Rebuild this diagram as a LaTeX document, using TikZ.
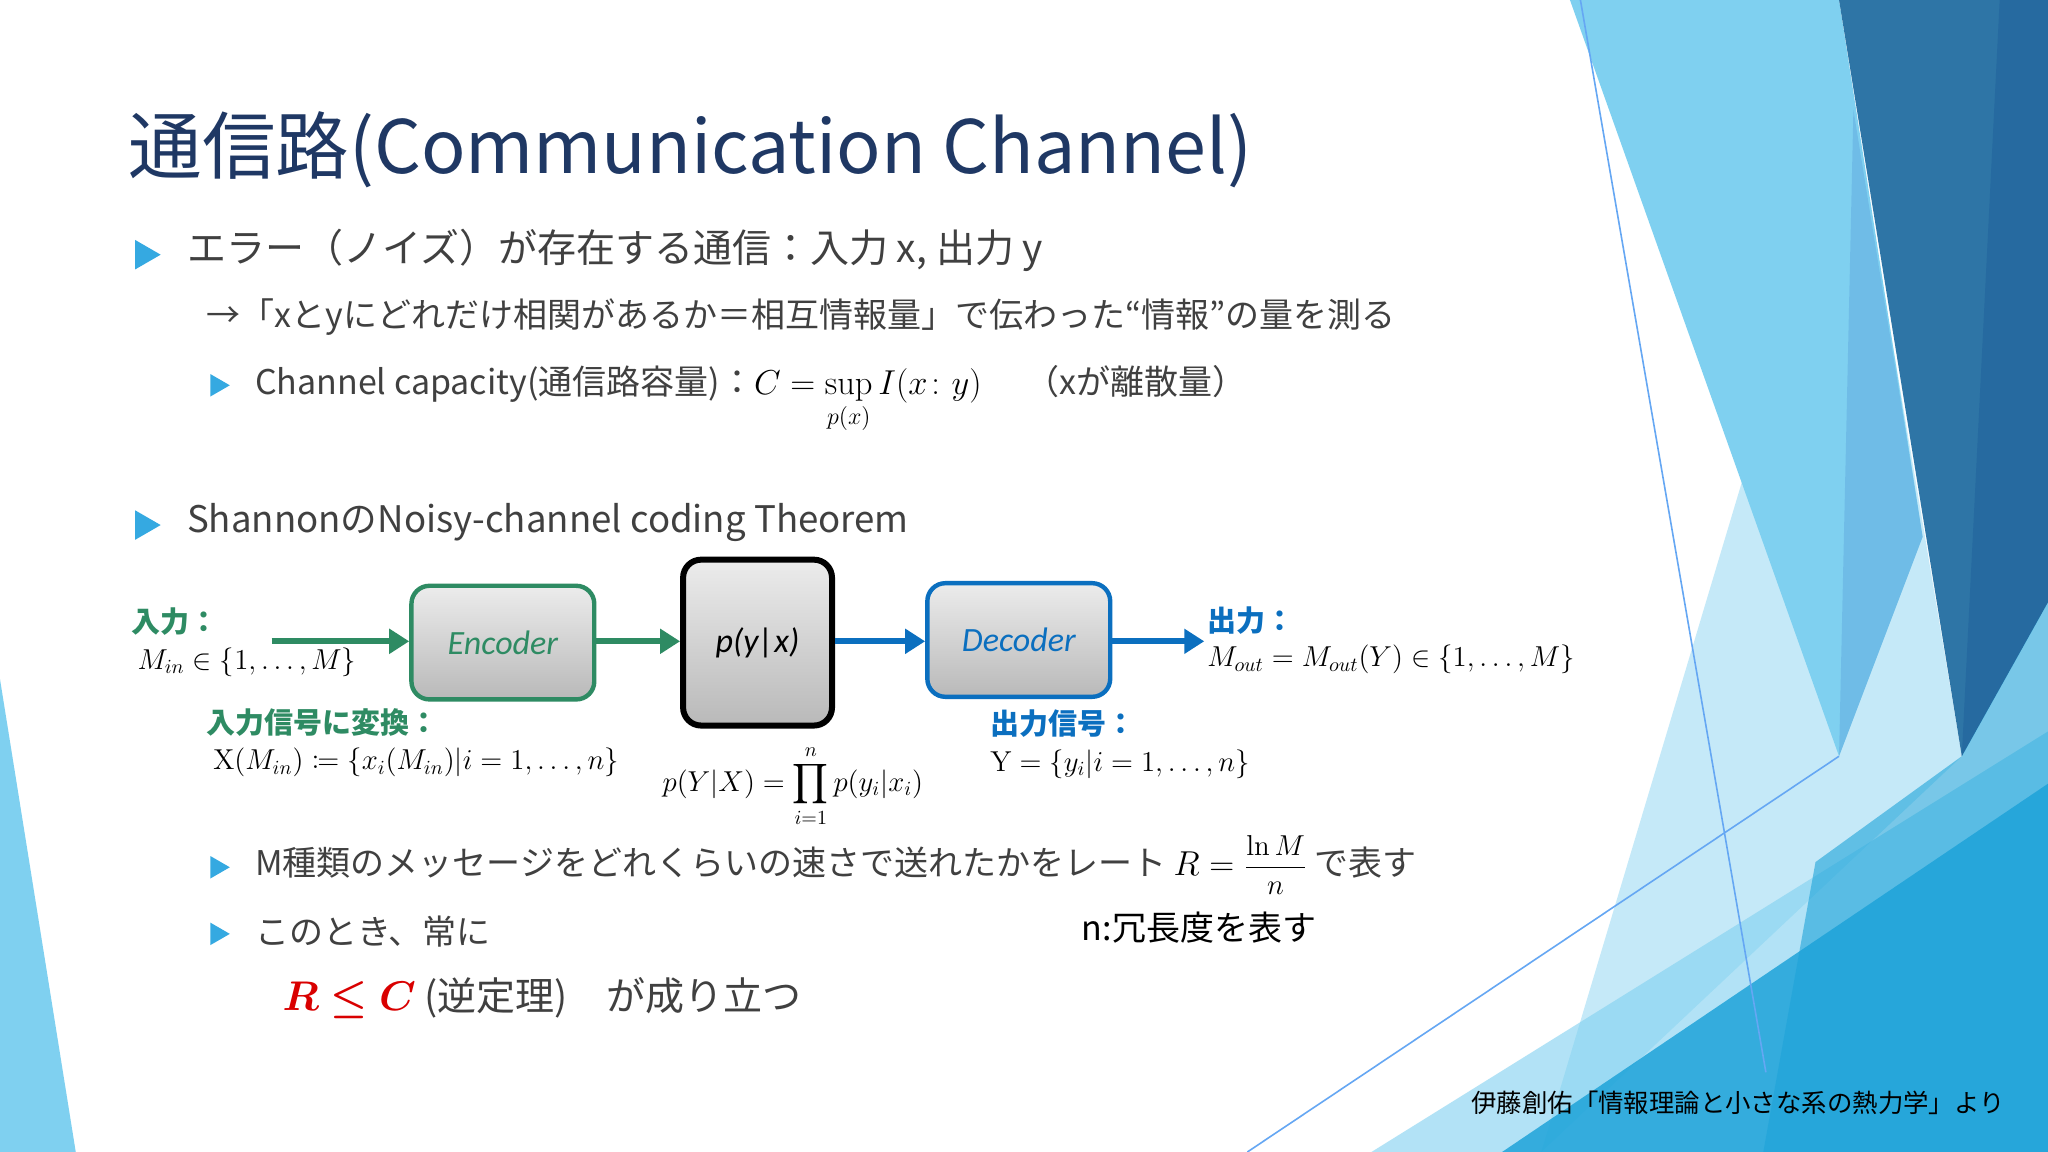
\documentclass[tikz,border=0pt]{standalone}
\usepackage{amsmath,mathtools,amssymb,bm}
\usepackage[no-math]{fontspec}
\setmainfont{Noto Sans CJK JP}
\newfontfamily\itf{Carlito}
\usetikzlibrary{arrows.meta,shapes.geometric}
\definecolor{navy}{HTML}{1F3864}
\definecolor{txt}{HTML}{404040}
\definecolor{bul}{HTML}{35A9E1}
\definecolor{grn}{HTML}{2E8B63}
\definecolor{blu}{HTML}{0B6FBF}
\definecolor{lc}{HTML}{7FD0F0}
\definecolor{dk}{HTML}{2E75A6}
\definecolor{dk2}{HTML}{266AA0}
\definecolor{tl}{HTML}{1EA3D9}
\begin{document}
\begin{tikzpicture}[x=0.653pt,y=-0.653pt,
  lbl/.style={anchor=west,inner sep=0pt},
  tri/.style={fill=bul,draw=none,regular polygon,regular polygon sides=3,inner sep=0pt,shape border rotate=-90},
  box/.style={rounded corners=9pt,top color=gray!15,bottom color=gray!55,line width=2.2pt},
  arr/.style={line width=3pt,-{Triangle[length=10pt,width=12pt]}}]
\useasboundingbox (0,0) rectangle (1568,882);
\fill[white] (0,0) rectangle (1568,882);
% background
\fill[lc] (1202,0)--(1408,0)--(1472,411)--(1408,579)--cycle;
\fill[lc,opacity=0.45] (1419,84)--(1502,579)--(1180,882)--cycle;
\fill[cyan!60!blue!70,opacity=0.35] (1419,84)--(1472,411)--(1408,579)--cycle;
\fill[dk] (1408,0)--(1568,0)--(1568,461)--(1502,579)--cycle;
\fill[dk2] (1531,0)--(1568,0)--(1568,461)--(1502,579)--cycle;
\fill[lc,opacity=0.6] (1050,882)--(1568,560)--(1568,882)--cycle;
\fill[tl,opacity=0.85] (1150,882)--(1568,600)--(1568,882)--cycle;
\fill[tl,opacity=0.6] (1390,660)--(1502,579)--(1568,461)--(1568,882)--(1350,882)--cycle;
\draw[lc!80!blue,line width=0.8pt] (1210,0)--(1352,821);
\draw[lc!80!blue,line width=0.8pt] (955,882)--(1408,579);
\fill[lc] (0,520)--(58,882)--(0,882)--cycle;
% title
\node[lbl,text=navy,font=\fontsize{36.8}{40}\selectfont] (title) at (98,115) {通信路(Communication Channel)};
% bullets
\begin{scope}[text=txt]
\node[tri,minimum size=17pt] (b1) at (110,195) {};
\node[lbl,font=\fontsize{19.5}{22}\selectfont] (t1) at (143,192) {エラー（ノイズ）が存在する通信：入力 x, 出力 y};
\node[tri,minimum size=17pt] (b2) at (110,402) {};
\node[lbl,font=\fontsize{18.3}{22}\selectfont] (t2) at (143,400) {ShannonのNoisy-channel coding Theorem};
\end{scope}
\begin{scope}[font=\fontsize{17}{20}\selectfont,text=txt]
\node[lbl] (t3) at (158,243) {→「xとyにどれだけ相関があるか＝相互情報量」で伝わった“情報”の量を測る};
\node[tri,minimum size=13pt] (b3) at (166,295) {};
\node[lbl,anchor=base west] (t4) at (195,302) {Channel capacity(通信路容量)：\textcolor{black}{$C=\sup\limits_{p(x)} I(x\colon y)$}};
\node[lbl,anchor=base west] (t5) at (785,302) {（xが離散量）};
\node[tri,minimum size=13pt] (b4) at (166,664) {};
\node[lbl,anchor=base west] (t6) at (195,670) {M種類のメッセージをどれくらいの速さで送れたかをレート \textcolor{black}{$R=\text{\fontsize{14}{16}\selectfont$\dfrac{\ln M}{n}$}$} で表す};
\node[tri,minimum size=13pt] (b5) at (166,715) {};
\node[lbl] (t7) at (195,713) {このとき、常に};
\node[lbl,text=black] (t8) at (828,710) {n:冗長度を表す};
\node[lbl,font=\fontsize{19.5}{22}\selectfont] (t9) at (216,764) {\textcolor{red!85!black}{$\bm{R\le C}$} (逆定理)　が成り立つ};
\end{scope}
\node[anchor=east,inner sep=0pt,font=\fontsize{12.7}{15}\selectfont] (src) at (1535,844) {伊藤創佑「情報理論と小さな系の熱力学」より};
% diagram
\node[box,draw=grn,minimum width=140*0.653pt,minimum height=87*0.653pt,text=grn,font=\fontsize{17}{19}\selectfont\itf\itshape] (enc) at (385,492) {Encoder};
\node[box,draw=black,line width=3pt,minimum width=114*0.653pt,minimum height=127*0.653pt,font=\fontsize{17}{19}\selectfont\itf\itshape] (ch) at (580,492) {p(y|x)};
\node[box,draw=blu,minimum width=140*0.653pt,minimum height=87*0.653pt,text=blu,font=\fontsize{17}{19}\selectfont\itf\itshape] (dec) at (780,490) {Decoder};
\coordinate (in) at (208,491);
\coordinate (out) at (922,491);
\draw[arr,grn] (in) -- (enc.west|-in);
\draw[arr,grn] (enc.east|-in) -- (ch.west|-in);
\draw[arr,blu] (ch.east|-in) -- (dec.west|-in);
\draw[arr,blu] (dec.east|-in) -- (out);
\begin{scope}[font=\fontsize{14}{17}\selectfont]
\node[lbl,text=grn,font=\fontsize{14.5}{17}\selectfont\bfseries] (l1) at (100,476) {入力：};
\node[lbl] (m1) at (105,507) {$M_{in}\in\{1,\dots,M\}$};
\node[lbl,text=grn,font=\fontsize{14.5}{17}\selectfont\bfseries] (l2) at (158,553) {入力信号に変換：};
\node[lbl] (m2) at (163,584) {$\mathrm{X}(M_{in})\coloneqq\{x_i(M_{in})|i=1,\dots,n\}$};
\node[lbl,text=blu,font=\fontsize{14.5}{17}\selectfont\bfseries] (l3) at (924,475) {出力：};
\node[lbl] (m3) at (924,505) {$M_{out}=M_{out}(Y)\in\{1,\dots,M\}$};
\node[lbl,text=blu,font=\fontsize{14.5}{17}\selectfont\bfseries] (l4) at (758,554) {出力信号：};
\node[lbl] (m4) at (758,585) {$\mathrm{Y}=\{y_i|i=1,\dots,n\}$};
\node[lbl] (m5) at (507,602) {$p(Y|X)=\displaystyle\prod_{i=1}^{n}p(y_i|x_i)$};
\end{scope}
\end{tikzpicture}
\end{document}
